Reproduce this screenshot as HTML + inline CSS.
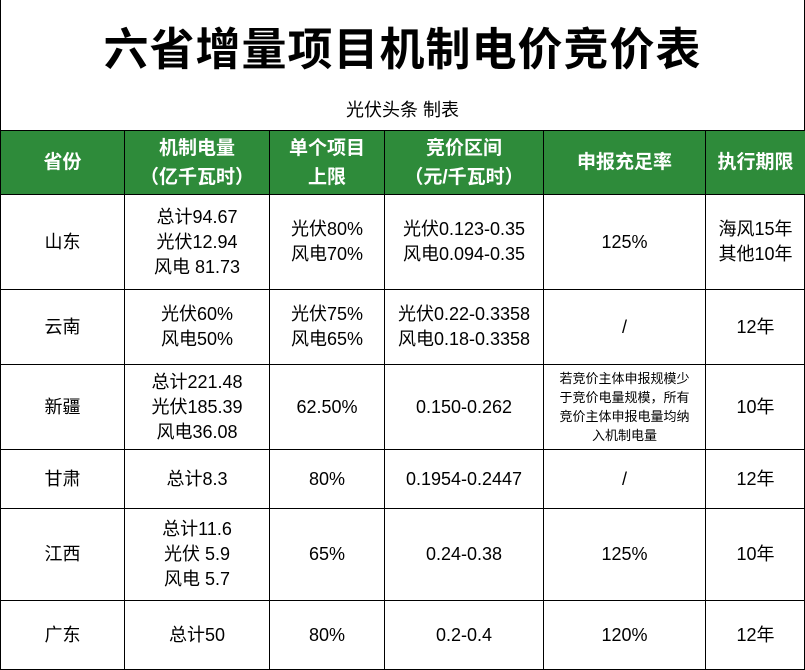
<!DOCTYPE html>
<html><head><meta charset="utf-8"><style>
body{margin:0;width:805px;height:669px;background:#fff;overflow:hidden;font-family:"Liberation Sans","Noto Sans CJK SC",sans-serif;}
.t{position:absolute;left:0;top:0;width:805px;height:669px;box-sizing:border-box;border-left:1px solid #000;border-right:1px solid #000;}
.title{position:absolute;left:0;top:13px;width:805px;text-align:center;font-size:45px;font-weight:bold;color:#000;letter-spacing:1px;}
.sub{position:absolute;left:0;top:96px;width:805px;text-align:center;font-size:18px;color:#000;}
table{position:absolute;left:0;top:130px;border-collapse:collapse;width:805px;table-layout:fixed;}
td{border:1.5px solid #000;text-align:center;vertical-align:middle;font-size:18px;line-height:25px;padding:0;color:#000;}
tr.h td{background:#2e8b3a;color:#fff;font-weight:bold;font-size:19px;line-height:29px;}
.s{font-size:13px;line-height:19px;}
</style></head><body>
<div class="t"></div>
<div class="title">六省增量项目机制电价竞价表</div>
<div class="sub">光伏头条 制表</div>
<table>
<colgroup><col style="width:124px"><col style="width:145px"><col style="width:115px"><col style="width:159px"><col style="width:162px"><col style="width:100px"></colgroup>
<tr class="h" style="height:64px"><td>省份</td><td>机制电量<br>（亿千瓦时）</td><td>单个项目<br>上限</td><td>竞价区间<br>（元/千瓦时）</td><td>申报充足率</td><td>执行期限</td></tr>
<tr style="height:95px"><td>山东</td><td>总计94.67<br>光伏12.94<br>风电 81.73</td><td>光伏80%<br>风电70%</td><td>光伏0.123-0.35<br>风电0.094-0.35</td><td>125%</td><td>海风15年<br>其他10年</td></tr>
<tr style="height:75px"><td>云南</td><td>光伏60%<br>风电50%</td><td>光伏75%<br>风电65%</td><td>光伏0.22-0.3358<br>风电0.18-0.3358</td><td>/</td><td>12年</td></tr>
<tr style="height:85px"><td>新疆</td><td>总计221.48<br>光伏185.39<br>风电36.08</td><td>62.50%</td><td>0.150-0.262</td><td class="s">若竞价主体申报规模少<br>于竞价电量规模，所有<br>竞价主体申报电量均纳<br>入机制电量</td><td>10年</td></tr>
<tr style="height:59px"><td>甘肃</td><td>总计8.3</td><td>80%</td><td>0.1954-0.2447</td><td>/</td><td>12年</td></tr>
<tr style="height:92px"><td>江西</td><td>总计11.6<br>光伏 5.9<br>风电 5.7</td><td>65%</td><td>0.24-0.38</td><td>125%</td><td>10年</td></tr>
<tr style="height:69px"><td>广东</td><td>总计50</td><td>80%</td><td>0.2-0.4</td><td>120%</td><td>12年</td></tr>
</table>
</body></html>
